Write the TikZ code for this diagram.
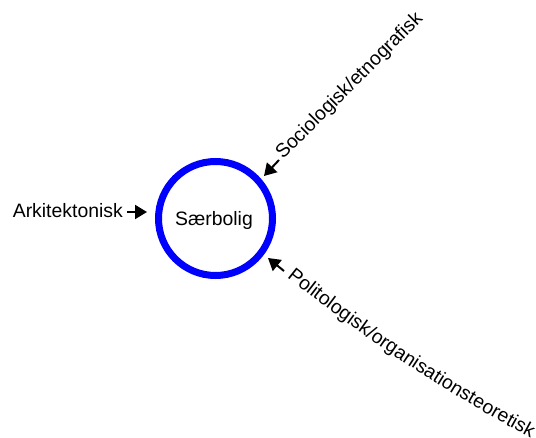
\documentclass[tikz,border=0pt]{standalone}
\usepackage{fontspec}
\setmainfont{Liberation Sans}
\usetikzlibrary{arrows.meta,decorations.text}
\begin{document}
\begin{tikzpicture}[x=1pt,y=-1pt,
  lbl/.style={inner sep=0pt, font=\fontsize{19.4}{22}\selectfont},
  arr/.style={line width=2pt, -{Triangle[length=12pt,width=14pt]}},
  hub/.style={circle, draw=blue, line width=7pt, minimum size=114pt, inner sep=0pt}]
\useasboundingbox (0,0) rectangle (536,438);
\node[hub] (s) at (215.5,218.5) {};
\node[lbl, anchor=base] (st) at (214,226) {Særbolig};
\node[lbl, anchor=base east] (a) at (123,218) {Arkitektonisk};
\node[lbl, anchor=base west, rotate=45] (so) at (283,160) {Sociologisk/etnografisk};
\path[decorate, decoration={text along path, text align=left,
  text={|\fontsize{19.4}{22}\selectfont|Politologisk/organisationsteoretisk}}]
  (287,277) .. controls (362,337) and (444,392) .. (536,441);
\coordinate (at) at (147,212);
\coordinate (sot) at (264,176);
\coordinate (pot) at (268,258);
\coordinate (aa) at (127,212);
\coordinate (soa) at (279,160);
\coordinate (poa) at (284,271);
\draw[arr] (aa) -- (at);
\draw[arr] (soa) -- (sot);
\draw[arr] (poa) -- (pot);
\end{tikzpicture}
\end{document}
